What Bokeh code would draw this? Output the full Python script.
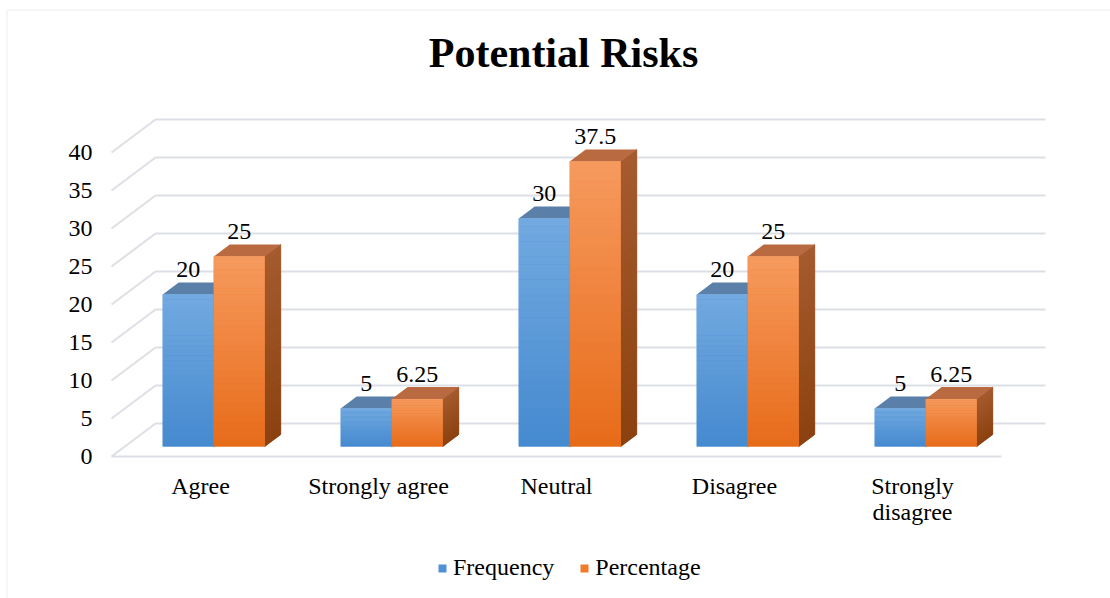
import numpy as np
from bokeh.plotting import figure
from bokeh.models import Range1d, Legend, LegendItem, Label, BoxAnnotation
from bokeh.core.properties import value
from bokeh.embed import file_html
from bokeh.resources import INLINE

# ---- data ----
categories = ["Agree", "Strongly agree", "Neutral", "Disagree", "Strongly\ndisagree"]
frequency = [20, 5, 30, 20, 5]
percentage = [25, 6.25, 37.5, 25, 6.25]
y_ticks = [0, 5, 10, 15, 20, 25, 30, 35, 40]
series_names = ["Frequency", "Percentage"]

# ---- layout of the pseudo-3D scene ----
W, H = 1110, 598
PX_X, PX_Y = 178.0, 7.6          # pixels per category step / per value unit
X0_PX, Y0_PX = 200.0, 456.0      # screen position of category 0 / value 0 (front plane)
DX, DY = 44.0 / PX_X, 33.0 / PX_Y  # full depth of the floor, in data units
BAR_FRONT, BAR_DEPTH = 0.30, 0.364  # bar position inside the depth
BAR_W = 51.0 / PX_X
FONT = "Liberation Serif"
FS = "24px"

p = figure(width=W, height=H,
           x_range=Range1d(-X0_PX / PX_X, (W - X0_PX) / PX_X),
           y_range=Range1d(-(H - Y0_PX) / PX_Y, Y0_PX / PX_Y),
           x_axis_type=None, y_axis_type=None,
           output_backend="svg", toolbar_location=None,
           min_border=0, outline_line_color=None)
p.background_fill_color = "white"
p.border_fill_color = "white"

# chart-area border (left and top edges)
p.add_layout(BoxAnnotation(left=p.x_range.start + 6.5 / PX_X, top=p.y_range.end - 9.5 / PX_Y,
                           right=p.x_range.end + 5, bottom=p.y_range.start - 5,
                           fill_alpha=0, line_color="#dde1e7", line_width=2))

n = len(categories)
XL, XR = -0.5, n - 0.5

# ---- walls: back gridlines, left-wall diagonals, front floor edge ----
grid_xs, grid_ys = [], []
for v in y_ticks:
    grid_xs.append([XL + DX, XR + DX]); grid_ys.append([v + DY, v + DY])
    grid_xs.append([XL, XL + DX]);      grid_ys.append([v, v + DY])
grid_xs.append([XL, XR]); grid_ys.append([0, 0])
p.multi_line(grid_xs, grid_ys, line_color="#dcdfe5", line_width=2)


def lerp_hex(c1, c2, t):
    a = np.array([int(c1[i:i + 2], 16) for i in (1, 3, 5)], float)
    b = np.array([int(c2[i:i + 2], 16) for i in (1, 3, 5)], float)
    c = np.round(a + (b - a) * t).astype(int)
    return "#%02x%02x%02x" % tuple(c)


styles = [
    dict(front=("#72aae0", "#4589cf"), side=("#3f6d9c", "#2f5a88"), top="#5a7fa8", legend="#4f91d6"),
    dict(front=("#f69a5e", "#e76b19"), side=("#a65b2f", "#8b420f"), top="#b96a40", legend="#f07b2b"),
]

NSTRIP = 30
legend_items = []
label_x, label_y, label_t = [], [], []
base = BAR_FRONT * DY
ddx, ddy = BAR_DEPTH * DX, BAR_DEPTH * DY

for s, vals in enumerate([frequency, percentage]):
    st = styles[s]
    lefts = [i + BAR_FRONT * DX - BAR_W + s * BAR_W for i in range(n)]
    rights = [l + BAR_W for l in lefts]
    tops = [base + v for v in vals]

    # side faces: solid underlay, then gradient strips
    p.patches([[r, r + ddx, r + ddx, r] for r in rights],
              [[t0, t0 + ddy, base + ddy, base] for t0 in tops],
              fill_color=lerp_hex(st["side"][0], st["side"][1], 0.5), line_color=None)
    sx, sy, sc = [], [], []
    for r, t0 in zip(rights, tops):
        edges = np.linspace(t0, base, NSTRIP + 1)
        for k in range(NSTRIP):
            y1, y2 = edges[k], edges[k + 1]
            sx.append([r, r + ddx, r + ddx, r])
            sy.append([y1, y1 + ddy, y2 + ddy, y2])
            sc.append(lerp_hex(st["side"][0], st["side"][1], (k + 0.5) / NSTRIP))
    p.patches(sx, sy, fill_color=sc, line_color=sc, line_width=0.8)

    # top faces
    tx = [[l, l + ddx, r + ddx, r] for l, r in zip(lefts, rights)]
    ty = [[t0, t0 + ddy, t0 + ddy, t0] for t0 in tops]
    p.patches(tx, ty, fill_color=st["top"], line_color=None)

    # front faces: solid base + vertical gradient
    solid = p.quad(left=lefts, right=rights, bottom=[base] * n, top=tops,
                   fill_color=st["legend"], line_color=None)
    ql, qr, qb, qt, qc = [], [], [], [], []
    for l, r, t0 in zip(lefts, rights, tops):
        edges = np.linspace(t0, base, NSTRIP + 1)
        for k in range(NSTRIP):
            ql.append(l); qr.append(r)
            qt.append(edges[k]); qb.append(edges[k + 1] - 0.02 if k < NSTRIP - 1 else edges[k + 1])
            qc.append(lerp_hex(st["front"][0], st["front"][1], (k + 0.5) / NSTRIP))
    p.quad(left=ql, right=qr, bottom=qb, top=qt, fill_color=qc, line_color=None)

    legend_items.append(LegendItem(label=series_names[s], renderers=[solid]))

    for l, r, t0, v in zip(lefts, rights, tops, vals):
        label_x.append((l + r) / 2)
        label_y.append(t0 + ddy)
        label_t.append(f"{v:g}")

# value labels
p.text(x=label_x, y=label_y, text=label_t, text_font=value(FONT), text_font_size=FS,
       text_color="black", text_align="center", text_baseline="alphabetic", y_offset=-13)

# y tick labels on the front plane
p.text(x=[XL] * len(y_ticks), y=y_ticks, text=[str(t) for t in y_ticks],
       text_font=value(FONT), text_font_size=FS, text_color="black",
       text_align="right", text_baseline="middle", x_offset=-19)

# category labels
p.text(x=list(range(n)), y=[0] * n, text=categories, text_font=value(FONT),
       text_font_size=FS, text_color="black", text_align="center",
       text_baseline="top", y_offset=16, text_line_height=1.0)

# title
p.add_layout(Label(x=563, y=H - 52, x_units="screen", y_units="screen", text="Potential Risks",
                   text_font=FONT, text_font_style="bold", text_font_size="42px",
                   text_color="black", text_align="center", text_baseline="alphabetic"))

legend = Legend(items=legend_items, orientation="horizontal", location=(437, 17),
                glyph_width=10, glyph_height=10, label_standoff=6, spacing=25,
                padding=0, margin=0, border_line_color=None, background_fill_alpha=0,
                label_text_font=FONT, label_text_font_size=FS, label_text_color="black")
p.add_layout(legend)

open("out.html", "w").write(file_html(p, INLINE))
